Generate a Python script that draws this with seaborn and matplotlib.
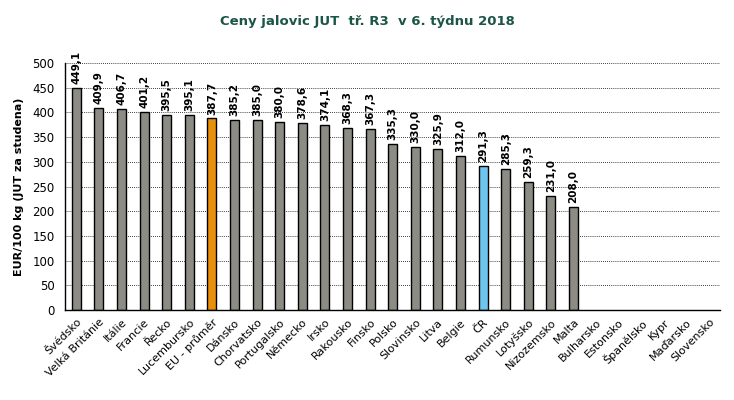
import numpy as np
import matplotlib.pyplot as plt
import seaborn as sns
import pandas as pd
from matplotlib.ticker import FixedLocator

countries = ['Švédsko', 'Velká Británie', 'Itálie', 'Francie', 'Řecko', 'Lucembursko',
             'EU - průměr', 'Dánsko', 'Chorvatsko', 'Portugalsko', 'Německo', 'Irsko',
             'Rakousko', 'Finsko', 'Polsko', 'Slovinsko', 'Litva', 'Belgie', 'ČR',
             'Rumunsko', 'Lotyšsko', 'Nizozemsko', 'Malta', 'Bulharsko', 'Estonsko',
             'Španělsko', 'Kypr', 'Maďarsko', 'Slovensko']
prices = [449.1, 409.9, 406.7, 401.2, 395.5, 395.1, 387.7, 385.2, 385.0, 380.0,
          378.6, 374.1, 368.3, 367.3, 335.3, 330.0, 325.9, 312.0, 291.3, 285.3,
          259.3, 231.0, 208.0, np.nan, np.nan, np.nan, np.nan, np.nan, np.nan]

df = pd.DataFrame({'country': countries, 'price': prices})

colors = []
for c in countries:
    if c == 'EU - průměr':
        colors.append('#E8900A')
    elif c == 'ČR':
        colors.append('#6EC6EE')
    else:
        colors.append('#8C8C84')

sns.set_style('white')
plt.rcParams['font.family'] = ['DejaVu Sans']
plt.rcParams['text.color'] = 'black'
plt.rcParams['axes.labelcolor'] = 'black'
plt.rcParams['xtick.color'] = 'black'
plt.rcParams['ytick.color'] = 'black'

fig = plt.figure(figsize=(7.34, 4.0), dpi=100)
ax = fig.add_axes([0.0886, 0.225, 0.893, 0.6175])

sns.barplot(data=df, x='country', y='price', hue='country', palette=colors,
            legend=False, width=0.4, saturation=1, edgecolor='black', linewidth=1.0, ax=ax)

# value labels
for i, v in enumerate(prices):
    if not np.isnan(v):
        ax.text(i, v + 8, f'{v:.1f}'.replace('.', ','), rotation=90, ha='center',
                va='bottom', fontsize=7.5, fontweight='bold', color='black')

ax.set_ylim(0, 500)
ax.set_xlim(-0.5, len(countries) - 0.5)
ax.set_yticks(range(0, 501, 50))
ax.yaxis.grid(True, linestyle=(0, (1, 1.5)), color='black', linewidth=0.6)
ax.set_axisbelow(True)

# category ticks between bars
ax.xaxis.set_minor_locator(FixedLocator(np.arange(-0.5, len(countries), 1)))
ax.tick_params(axis='x', which='major', length=0, labelsize=8, pad=5)
ax.tick_params(axis='x', which='minor', length=4, width=1, direction='out')
ax.tick_params(axis='y', length=4, width=1, direction='out', labelsize=8.5)
ax.set_xticks(range(len(countries)))
ax.set_xticklabels(countries, rotation=45, ha='right', rotation_mode='anchor')

for s in ['top', 'right']:
    ax.spines[s].set_visible(False)
for s in ['left', 'bottom']:
    ax.spines[s].set_color('black')
    ax.spines[s].set_linewidth(1)

ax.set_xlabel('')
ax.set_ylabel('EUR/100 kg (JUT za studena)', fontsize=8, fontweight='bold', labelpad=6)

fig.text(0.5, 0.945, 'Ceny jalovic JUT  tř. R3  v 6. týdnu 2018', ha='center',
         va='center', fontsize=9.5, fontweight='bold', color='#1B5546')

fig.savefig('out.png', dpi=100)
